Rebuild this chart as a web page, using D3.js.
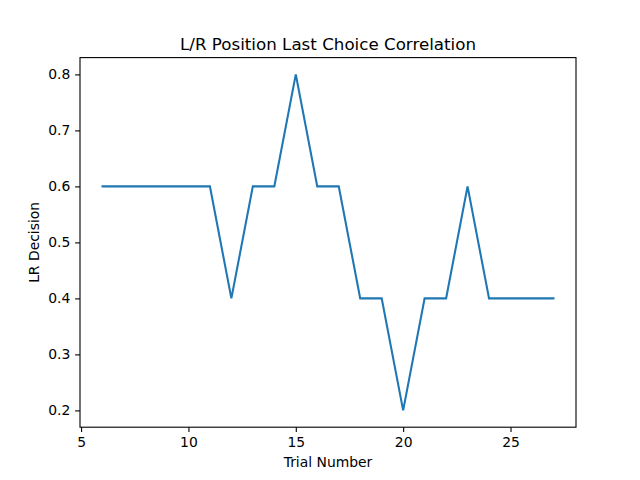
<!DOCTYPE html>
<html>
<head>
<meta charset="utf-8">
<script src="https://d3js.org/d3.v7.min.js"></script>
<style>
  body { margin: 0; background: #fff; }
  text { font-family: "DejaVu Sans", sans-serif; fill: #000; }
</style>
</head>
<body>
<script>
var trials = [6, 7, 8, 9, 10, 11, 12, 13, 14, 15, 16, 17, 18, 19, 20, 21, 22, 23, 24, 25, 26, 27];
var decisions = [0.6, 0.6, 0.6, 0.6, 0.6, 0.6, 0.4, 0.6, 0.6, 0.8, 0.6, 0.6, 0.4, 0.4, 0.2, 0.4, 0.4, 0.6, 0.4, 0.4, 0.4, 0.4];
var xTicks = [5, 10, 15, 20, 25];
var yTicks = [0.2, 0.3, 0.4, 0.5, 0.6, 0.7, 0.8];

var W = 640, H = 480;
var margin = {top: 57.6, right: 64, bottom: 52.8, left: 80};
var width = W - margin.left - margin.right,
    height = H - margin.top - margin.bottom;

var svg = d3.select("body").append("svg")
    .attr("width", W)
    .attr("height", H);

var g = svg.append("g")
    .attr("transform", "translate(" + margin.left + "," + margin.top + ")");

// matplotlib-style 5% padding
var xr = d3.extent(trials), yr = d3.extent(decisions);
var xpad = (xr[1] - xr[0]) * 0.05, ypad = (yr[1] - yr[0]) * 0.05;

var x = d3.scaleLinear()
    .domain([xr[0] - xpad, xr[1] + xpad])
    .range([0, width]);
var y = d3.scaleLinear()
    .domain([yr[0] - ypad, yr[1] + ypad])
    .range([height, 0]);

var line = d3.line()
    .x(function(d, i) { return x(trials[i]); })
    .y(function(d) { return y(d); });

g.append("path")
    .datum(decisions)
    .attr("fill", "none")
    .attr("stroke", "#1f77b4")
    .attr("stroke-width", 2.08)
    .attr("stroke-linecap", "square")
    .attr("d", line);

var xAxis = g.append("g")
    .attr("transform", "translate(0," + height + ")")
    .call(d3.axisBottom(x).tickValues(xTicks).tickFormat(d3.format("d"))
      .tickSize(4.86).tickPadding(4.86));

var yAxis = g.append("g")
    .call(d3.axisLeft(y).tickValues(yTicks).tickFormat(d3.format(".1f"))
      .tickSize(4.86).tickPadding(4.86));

[xAxis, yAxis].forEach(function(a) {
  a.select(".domain").remove();
  a.selectAll(".tick line").attr("stroke", "#000").attr("stroke-width", 1.1);
  a.selectAll(".tick text")
    .style("font-family", "DejaVu Sans, sans-serif")
    .style("font-size", "13.9px");
});

g.append("rect")
    .attr("width", width)
    .attr("height", height)
    .attr("fill", "none")
    .attr("stroke", "#000")
    .attr("stroke-width", 1.1);

svg.append("text")
    .attr("x", margin.left + width / 2)
    .attr("y", 50)
    .attr("text-anchor", "middle")
    .style("font-size", "16.7px")
    .text("L/R Position Last Choice Correlation");

svg.append("text")
    .attr("x", margin.left + width / 2)
    .attr("y", 467)
    .attr("text-anchor", "middle")
    .style("font-size", "13.9px")
    .text("Trial Number");

svg.append("text")
    .attr("transform", "translate(39," + (margin.top + height / 2) + ") rotate(-90)")
    .attr("text-anchor", "middle")
    .style("font-size", "13.9px")
    .text("LR Decision");
</script>
</body>
</html>
